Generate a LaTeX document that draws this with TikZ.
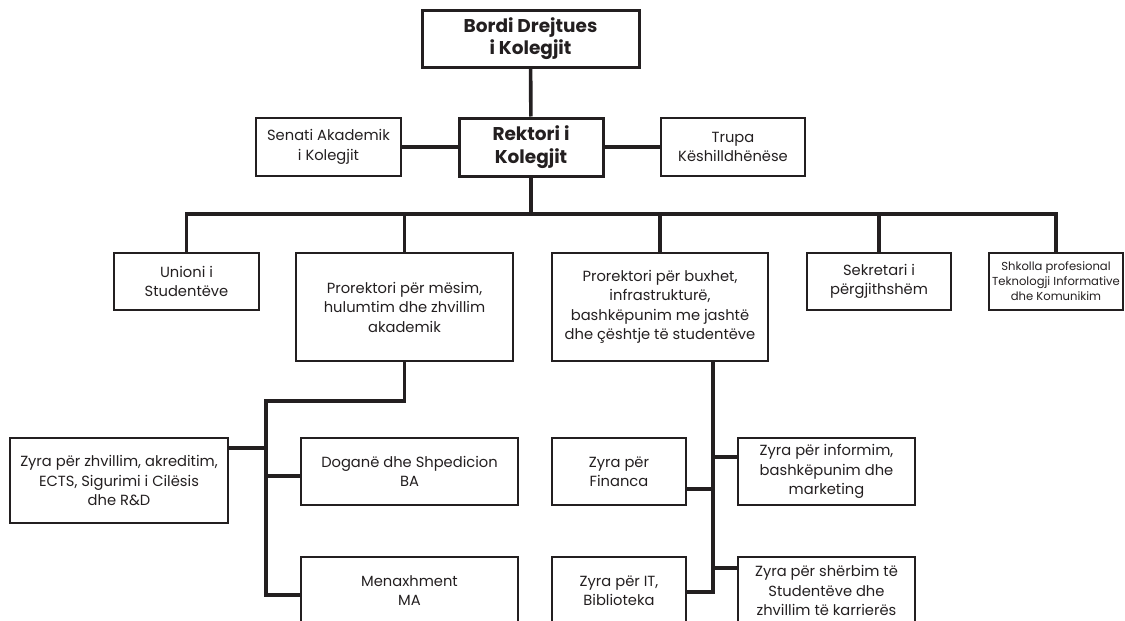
\documentclass[tikz,border=0pt]{standalone}
\usepackage{fontspec}
\setmainfont{Poppins}
\definecolor{ink}{HTML}{231F20}
\begin{document}
\begin{tikzpicture}[x=1pt,y=-1pt,
  box/.style={draw=ink,text=ink,line width=2.2pt,align=center,inner sep=2pt,
    font=\fontsize{14.7}{19.5}\selectfont},
  head/.style={box,line width=3pt,font=\bfseries\fontsize{18.5}{22.5}\selectfont},
  small/.style={box,font=\fontsize{11.6}{15}\selectfont},
  link/.style={draw=ink,line width=3.6pt}]
\useasboundingbox (0,0) rectangle (1125,621);
\clip (0,0) rectangle (1125,621);

\node[head,minimum width=217,minimum height=57] (bordi) at (530.5,38.5) {Bordi Drejtues\\i Kolegjit};
\node[head,minimum width=144,minimum height=58] (rektori) at (531,147) {Rektori i\\Kolegjit};
\node[box,minimum width=145,minimum height=58] (senati) at (328.5,147) {Senati Akademik\\i Kolegjit};
\node[box,minimum width=144,minimum height=58] (trupa) at (733,147) {Trupa\\Këshilldhënëse};

\node[box,minimum width=145,minimum height=57] (unioni) at (186.5,281.5) {Unioni i\\Studentëve};
\node[box,minimum width=217,minimum height=108] (promesim) at (404.5,307) {Prorektori për mësim,\\hulumtim dhe zhvillim\\akademik};
\node[box,minimum width=216,minimum height=108] (probuxhet) at (660,307) {Prorektori për buxhet,\\infrastrukturë,\\bashkëpunim me jashtë\\dhe çështje të studentëve};
\node[box,minimum width=144,minimum height=57] (sekretari) at (879,281.5) {Sekretari i\\përgjithshëm};
\node[small,minimum width=134,minimum height=57] (shkolla) at (1056,281.5) {Shkolla profesional\\Teknologji Informative\\dhe Komunikim};

\node[box,minimum width=218,minimum height=85] (zhvillim) at (119,480.5) {Zyra për zhvillim, akreditim,\\ECTS, Sigurimi i Cilësis\\dhe R\&D};
\node[box,minimum width=217,minimum height=67] (dogane) at (409.5,471.5) {Doganë dhe Shpedicion\\BA};
\node[box,minimum width=217,minimum height=67] (menaxhment) at (409.5,590.5) {Menaxhment\\MA};
\node[box,minimum width=134,minimum height=67] (financa) at (619,471.5) {Zyra për\\Financa};
\node[box,minimum width=177,minimum height=67] (informim) at (826.5,471.5) {Zyra për informim,\\bashkëpunim dhe\\marketing};
\node[box,minimum width=134,minimum height=67] (itbib) at (619,590.5) {Zyra për IT,\\Biblioteka};
\node[box,minimum width=177,minimum height=67] (sherbim) at (826.5,590.5) {Zyra për shërbim të\\Studentëve dhe\\zhvillim të karrierës};

\coordinate (bus) at (531,214);
\coordinate (lt) at (266,401);
\coordinate (lb) at (266,595);
\coordinate (zb) at (266,448);
\coordinate (db) at (266,476);
\coordinate (rb) at (713,592);
\coordinate (ib) at (713,457);
\coordinate (fb) at (713,489);
\coordinate (sb) at (713,568);

\draw[link] (bordi) -- (rektori);
\draw[link] (senati) -- (rektori) -- (trupa);
\draw[link] (rektori) -- (bus);
\draw[link] (unioni) |- (bus) -| (shkolla);
\foreach \n in {promesim,probuxhet,sekretari}
  \draw[link] (\n) -- (\n |- bus);

\draw[link] (promesim.south) |- (lt) |- (menaxhment.west |- lb);
\draw[link] (zhvillim.east |- zb) -- (zb);
\draw[link] (db) -- (dogane.west |- db);

\draw[link] (probuxhet.south -| rb) |- (itbib.east |- rb);
\draw[link] (ib) -- (informim.west |- ib);
\draw[link] (fb) -- (financa.east |- fb);
\draw[link] (sb) -- (sherbim.west |- sb);
\end{tikzpicture}
\end{document}
